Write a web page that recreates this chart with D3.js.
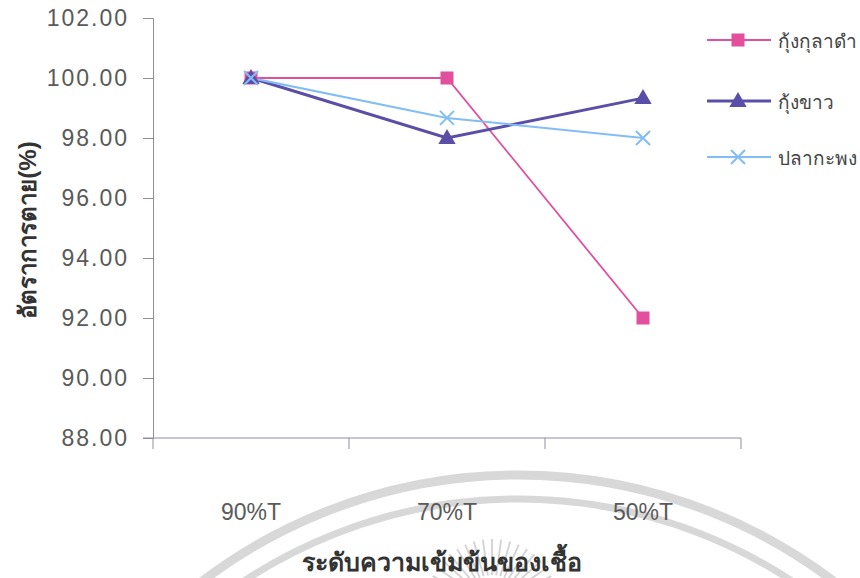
<!DOCTYPE html>
<html>
<head>
<meta charset="utf-8">
<script src="https://cdn.jsdelivr.net/npm/d3@7"></script>
<style>
  html, body { margin: 0; padding: 0; background: #fff; }
  svg { display: block; }
  text { font-family: "Liberation Sans", Arial, sans-serif; }
</style>
</head>
<body>
<svg id="chart" width="860" height="578"></svg>
<script>
// Concentration levels of the culture
const categories = ["90%T", "70%T", "50%T"];

// Mortality (%) per species
const seriesNames = ["กุ้งกุลาดำ", "กุ้งขาว", "ปลากะพง"];
const blackTiger = [100.00, 100.00, 92.00];
const whiteShrimp = [100.00, 98.00, 99.33];
const seaBass = [100.00, 98.67, 98.00];

const yTicks = [88, 90, 92, 94, 96, 98, 100, 102];
const yTitle = "อัตราการตาย(%)";
const xTitle = "ระดับความเข้มข้นของเชื้อ";

const series = [
  { name: seriesNames[0], values: blackTiger, color: "#e2509d", width: 1.8, marker: "square" },
  { name: seriesNames[1], values: whiteShrimp, color: "#5b4ea6", width: 3, marker: "triangle" },
  { name: seriesNames[2], values: seaBass, color: "#82bdf5", width: 2, marker: "cross" }
];

const svg = d3.select("#chart");
const plot = { left: 153, right: 741, top: 18, bottom: 438 };

// Faint circular seal in the background
const seal = svg.append("g").attr("fill", "none").attr("stroke", "#d8d8d8");
seal.append("circle").attr("cx", 518).attr("cy", 997).attr("r", 522).attr("stroke-width", 9);
seal.append("circle").attr("cx", 518).attr("cy", 997).attr("r", 498).attr("stroke-width", 7);
const rays = d3.range(-64, 65, 8);
seal.selectAll("line.ray").data(rays).join("line")
  .attr("stroke-width", 1.8)
  .attr("stroke", "#d2d2d2")
  .attr("x1", d => 492 + Math.sin(d * Math.PI / 180) * 30)
  .attr("y1", d => 605 - Math.cos(d * Math.PI / 180) * 30)
  .attr("x2", d => 492 + Math.sin(d * Math.PI / 180) * 66)
  .attr("y2", d => 605 - Math.cos(d * Math.PI / 180) * 66);

const x = d3.scaleBand().domain(categories).range([plot.left, plot.right]);
const y = d3.scaleLinear().domain([88, 102]).range([plot.bottom, plot.top]);
const cx = d => x(d) + x.bandwidth() / 2;

const axisColor = "#8e8e9e";

// Y axis
const yAxis = svg.append("g")
  .attr("transform", `translate(${plot.left},0)`)
  .call(d3.axisLeft(y).tickValues(yTicks).tickFormat(d3.format(".2f")).tickSizeOuter(0).tickSize(10).tickPadding(14));
yAxis.select(".domain").attr("stroke", axisColor);
yAxis.selectAll(".tick line").attr("stroke", axisColor);
yAxis.selectAll(".tick text").attr("fill", "#5a5a5a").attr("font-size", 23)
  .attr("letter-spacing", 2)
  .attr("font-family", "'Liberation Sans', Arial, sans-serif");

// X axis line with tick marks at band boundaries
const xg = svg.append("g");
xg.append("line")
  .attr("x1", plot.left - 10).attr("x2", plot.right)
  .attr("y1", plot.bottom).attr("y2", plot.bottom)
  .attr("stroke", axisColor);
const bounds = categories.map(c => x(c)).concat([plot.right]);
xg.selectAll("line.xt").data(bounds).join("line")
  .attr("class", "xt")
  .attr("x1", d => d).attr("x2", d => d)
  .attr("y1", plot.bottom).attr("y2", plot.bottom + 11)
  .attr("stroke", axisColor);
xg.selectAll("text.cat").data(categories).join("text")
  .attr("class", "cat")
  .attr("x", d => cx(d)).attr("y", 520)
  .attr("text-anchor", "middle")
  .attr("fill", "#5a5a5a").attr("font-size", 23)
  .text(d => d);

// Axis titles
svg.append("text")
  .attr("transform", "translate(36,230) rotate(-90)")
  .attr("text-anchor", "middle")
  .attr("font-weight", "bold").attr("font-size", 24).attr("fill", "#333")
  .text(yTitle);
svg.append("text")
  .attr("x", 442).attr("y", 571)
  .attr("text-anchor", "middle")
  .attr("font-weight", "bold").attr("font-size", 25).attr("fill", "#333")
  .text(xTitle);

// Marker drawing
function drawMarker(g, type, color) {
  if (type === "square") {
    g.append("rect").attr("x", -6.5).attr("y", -6.5).attr("width", 13).attr("height", 13).attr("fill", color);
  } else if (type === "triangle") {
    g.append("path").attr("d", d3.symbol(d3.symbolTriangle, 130)()).attr("fill", color)
      .attr("transform", "translate(0,1)");
  } else {
    g.append("path").attr("d", "M-7,-7L7,7M-7,7L7,-7").attr("stroke", color).attr("stroke-width", 2).attr("fill", "none");
  }
}

const line = d3.line().x((d, i) => cx(categories[i])).y(d => y(d));

series.forEach(s => {
  svg.append("path")
    .datum(s.values)
    .attr("d", line)
    .attr("fill", "none")
    .attr("stroke", s.color)
    .attr("stroke-width", s.width);
});
series.forEach(s => {
  s.values.forEach((v, i) => {
    const g = svg.append("g").attr("transform", `translate(${cx(categories[i])},${y(v)})`);
    drawMarker(g, s.marker, s.color);
  });
});

// Legend
const legendY = [40, 101, 157];
series.forEach((s, i) => {
  const g = svg.append("g").attr("transform", `translate(0,${legendY[i]})`);
  g.append("line").attr("x1", 707).attr("x2", 771).attr("y1", 0).attr("y2", 0)
    .attr("stroke", s.color).attr("stroke-width", s.width);
  const m = g.append("g").attr("transform", "translate(738,0)");
  drawMarker(m, s.marker, s.color);
  g.append("text").attr("x", 778).attr("y", 8)
    .attr("fill", "#444").attr("font-size", 19)
    .text(s.name);
});
</script>
</body>
</html>
